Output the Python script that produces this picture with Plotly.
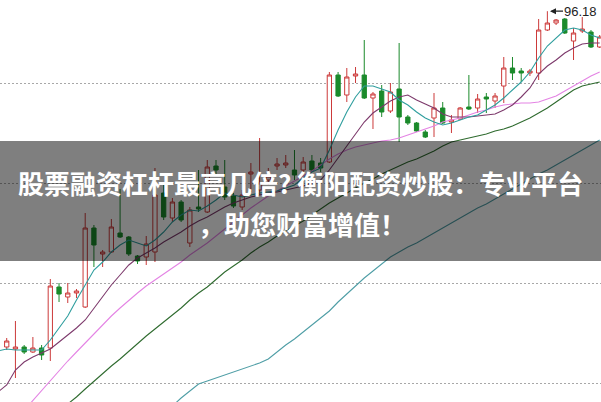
import plotly.graph_objects as go

# ---- candle data (index 0..68) ----
idx = list(range(69))
open_ = [62.6, 62.4, 62.6, 62.1, 62.5, 62.5, 68.6, 67.6, 68.0, 66.6,
         74.5, 71.9, 72.1, 74.0, 73.6, 71.7, 71.6, 72.1, 78.0, 75.5,
         77.1, 73.0, 76.6, 76.1, 80.7, 78.6, 77.7, 76.6, 79.9, 78.3,
         79.3, 80.7, 80.8, 80.3, 80.3, 81.2, 81.0, 81.1, 89.8, 87.8,
         89.7, 89.8, 87.5, 88.2, 86.2, 88.4, 85.6, 85.0, 84.1, 85.5,
         86.5, 85.1, 85.4, 86.6, 86.5, 87.6, 87.2, 88.7, 90.5, 90.2,
         90.0, 90.0, 94.3, 95.0, 95.4, 93.2, 94.2, 94.1, 92.6]
high = [63.5, 65.2, 62.8, 63.6, 62.8, 69.4, 69.0, 69.0, 68.4, 76.0,
        74.8, 72.3, 75.4, 78.4, 73.7, 71.8, 73.7, 80.5, 79.1, 77.5,
        77.3, 76.6, 80.3, 81.3, 81.3, 81.3, 78.0, 78.3, 81.0, 83.5,
        80.5, 81.5, 81.8, 82.3, 81.6, 81.8, 81.5, 90.1, 90.1, 90.5,
        90.6, 93.3, 88.1, 88.8, 89.0, 93.0, 85.8, 85.1, 84.3, 88.0,
        87.1, 85.8, 86.6, 89.8, 87.9, 88.0, 88.0, 91.6, 91.6, 90.5,
        90.4, 95.4, 96.18, 95.4, 95.5, 94.5, 95.6, 94.3, 93.8]
low = [62.3, 59.5, 61.9, 62.0, 61.3, 61.2, 67.1, 67.0, 67.5, 66.5,
       70.6, 70.6, 72.0, 73.5, 71.7, 70.9, 70.8, 71.1, 75.3, 75.1,
       75.1, 72.6, 76.1, 76.0, 79.9, 77.3, 76.5, 76.3, 78.1, 77.8,
       78.8, 80.3, 80.5, 79.3, 80.0, 80.1, 80.1, 81.0, 87.6, 87.1,
       89.0, 87.4, 84.4, 85.6, 86.0, 83.1, 84.8, 84.1, 83.5, 83.6,
       84.9, 84.0, 85.3, 86.3, 86.0, 86.0, 86.5, 87.0, 89.3, 89.1,
       89.7, 89.3, 94.2, 94.8, 93.9, 91.3, 94.0, 92.5, 92.5]
close = [63.2, 62.6, 62.1, 62.5, 61.8, 68.7, 67.9, 68.0, 68.2, 74.5,
         72.8, 72.1, 74.6, 73.6, 71.9, 71.2, 72.9, 77.8, 75.6, 77.1,
         75.3, 76.3, 76.4, 80.6, 80.3, 77.6, 76.7, 77.8, 80.1, 79.0,
         79.7, 80.9, 81.0, 79.8, 81.1, 80.3, 80.5, 89.8, 87.7, 89.6,
         89.9, 87.5, 87.9, 86.1, 88.1, 85.6, 85.0, 84.2, 83.6, 86.5,
         85.0, 85.3, 86.5, 86.4, 87.4, 87.4, 87.7, 90.5, 90.0, 90.0,
         90.2, 94.3, 95.0, 95.3, 94.0, 94.0, 94.4, 92.6, 93.6]

# ---- moving average lines ----
ma_short_x = list(range(-1, 69))
ma5 = [62.2, 62.4, 62.3, 62.3, 62.3, 62.3, 63.3, 64.5, 65.7, 67.3, 68.8,
       70.3, 71.1, 72.1, 72.8, 73.3, 73.0, 72.7, 73.3, 74.1, 75.1,
       75.8, 76.3, 76.2, 76.7, 77.3, 78.0, 77.8, 77.6, 77.8, 78.0,
       78.1, 78.2, 78.5, 78.8, 79.5, 80.1, 80.5, 82.3, 84.3, 86.1,
       87.6, 88.7, 88.7, 88.4, 88.1, 87.3, 86.8, 86.1, 85.5, 85.1,
       84.8, 85.0, 85.3, 85.6, 85.8, 86.3, 86.8, 87.5, 88.3, 89.1,
       90.1, 91.5, 92.7, 93.5, 94.3, 94.5, 94.3, 93.8, 93.5]
ma10 = [58.1, 58.8, 60.3, 61.1, 61.6, 62.0, 62.4, 63.1, 63.8, 64.5, 65.3,
        66.5, 67.7, 68.8, 69.8, 70.8, 71.5, 72.0, 72.5, 73.1, 73.6,
        74.1, 74.7, 75.2, 75.6, 76.1, 76.6, 77.0, 77.3, 77.6, 77.8,
        78.0, 78.1, 78.3, 78.5, 78.7, 79.0, 79.3, 80.3, 81.5, 82.8,
        84.0, 85.1, 86.0, 86.6, 87.2, 87.6, 87.8, 87.3, 86.9, 86.5,
        85.9, 85.6, 85.6, 85.6, 85.7, 85.8, 85.9, 86.3, 86.8, 87.6,
        88.5, 89.9, 90.7, 91.3, 92.0, 92.5, 92.9, 93.0, 93.0]
ma20 = [53.3, 54.3, 55.3, 56.3, 57.3, 58.3, 59.2, 60.2, 61.2, 62.1, 63.0,
        63.9, 64.9, 65.7, 66.5, 67.3, 68.0, 68.7, 69.3, 69.9, 70.5,
        71.1, 71.8, 72.4, 73.0, 73.7, 74.4, 75.1, 75.8, 76.5, 77.1,
        77.7, 78.2, 78.7, 79.2, 79.7, 80.2, 80.8, 81.4, 81.9, 82.3,
        82.6, 82.8, 83.0, 83.2, 83.3, 83.5, 83.8, 84.1, 84.4, 84.7,
        85.1, 85.3, 85.5, 85.8, 86.1, 86.3, 86.6, 86.8, 86.9, 87.0,
        87.0, 87.1, 87.4, 87.7, 88.2, 88.7, 89.2, 89.7, 90.1]
ma60_x = list(range(3, 69))
ma60 = [53.9, 54.6, 55.3, 56.2, 56.9, 57.6, 58.4,
        59.2, 59.9, 60.7, 61.4, 62.2, 62.9, 63.7, 64.4, 65.1, 65.8,
        66.5, 67.3, 68.0, 68.6, 69.4, 70.1, 70.7, 71.3, 72.0, 72.6,
        73.1, 73.7, 74.2, 74.7, 75.2, 75.8, 76.4, 77.0, 77.5, 78.0,
        78.5, 79.0, 79.4, 79.9, 80.3, 80.7, 81.1, 81.4, 81.8, 82.2,
        82.7, 83.1, 83.3, 83.5, 83.7, 83.9, 84.2, 84.4, 84.7, 85.1,
        85.5, 86.0, 86.5, 87.1, 87.7, 88.3, 88.7, 88.9, 89.1]
ma120_x = list(range(18, 69))
ma120 = [56.0, 56.7,
         57.5, 58.2, 58.9, 59.2, 59.5, 59.8, 60.1, 60.4, 60.7, 61.0,
         61.4, 62.1, 62.8, 63.4, 64.1, 64.8, 65.5, 66.2, 67.1, 67.9,
         68.8, 69.5, 70.2, 70.9, 71.6, 72.1, 72.6, 73.0, 73.5, 74.0,
         74.5, 75.0, 75.5, 76.0, 76.5, 76.9, 77.4, 77.9, 78.4, 78.9,
         79.4, 79.9, 80.3, 80.8, 81.3, 81.8, 82.3, 82.8, 83.3]

grid_levels = [59, 69, 79, 89]
peak_label = "96.18"
peak_index = 62
peak_value = 96.18

title_line1 = "股票融资杠杆最高几倍? 衡阳配资炒股：专业平台"
title_line2 = "，助您财富增值！"

RED = "#cc3a3a"
GREEN = "#1b8a2b"

fig = go.Figure()
fig.add_trace(go.Candlestick(
    x=idx, open=open_, high=high, low=low, close=close,
    increasing=dict(line=dict(color=RED, width=1), fillcolor="#ffffff"),
    decreasing=dict(line=dict(color=GREEN, width=1), fillcolor=GREEN),
    hoverinfo="skip", showlegend=False,
))

lines = [
    (ma120_x, ma120, "#4f9ea6"),
    (ma60_x, ma60, "#2f6b2f"),
    (ma_short_x, ma20, "#e484e4"),
    (ma_short_x, ma10, "#7d3a6c"),
    (ma_short_x, ma5, "#2f9e9e"),
]
for xs, ys, col in lines:
    fig.add_trace(go.Scatter(x=xs, y=ys, mode="lines",
                             line=dict(color=col, width=1.1),
                             hoverinfo="skip", showlegend=False))

fig.add_annotation(
    x=peak_index + 0.3, y=peak_value, xref="x", yref="y",
    text=peak_label, showarrow=True, ax=13, ay=0, xanchor="left",
    arrowhead=2, arrowsize=1, arrowwidth=1.2, arrowcolor="#222222",
    borderpad=0,
    font=dict(family="Arial, Liberation Sans", size=13, color="#222222"),
)

# dark translucent banner
fig.add_shape(type="rect", xref="paper", yref="paper",
              x0=0, x1=1, y0=1 - 261 / 402, y1=1 - 141 / 402,
              fillcolor="rgba(0,0,0,0.5)", line=dict(width=0), layer="above")

fig.add_annotation(
    x=0.5, y=1 - 182 / 402, xref="paper", yref="paper",
    text="<b>" + title_line1 + "</b>", showarrow=False,
    xanchor="center", yanchor="middle",
    font=dict(family="Noto Sans CJK SC", size=26, color="white"),
)
fig.add_annotation(
    x=0.503, y=1 - 223 / 402, xref="paper", yref="paper",
    text="<b>" + title_line2 + "</b>", showarrow=False,
    xanchor="center", yanchor="middle",
    font=dict(family="Noto Sans CJK SC", size=26, color="white"),
)

fig.update_layout(
    width=601, height=402, autosize=False,
    margin=dict(l=0, r=0, t=0, b=0, pad=0),
    paper_bgcolor="white", plot_bgcolor="white",
    showlegend=False,
    xaxis=dict(range=[-0.77, 68.15], visible=False, rangeslider=dict(visible=False),
               showgrid=False, zeroline=False),
    yaxis=dict(range=[57.1, 97.3], tickvals=grid_levels, showticklabels=False,
               showgrid=True, gridcolor="#a8a8a8", gridwidth=1, griddash="2px,2px",
               zeroline=False, showline=False, ticks=""),
)

fig.write_html("out.html", config={"displayModeBar": False},
               post_script="document.body.style.margin='0';document.body.style.padding='0';")
